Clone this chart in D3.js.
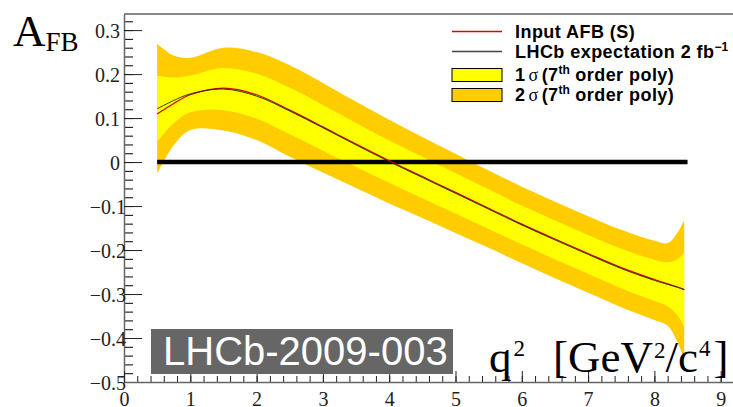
<!DOCTYPE html>
<html>
<head>
<meta charset="utf-8">
<script src="https://cdn.jsdelivr.net/npm/d3@7"></script>
<style>
  body { margin: 0; background: #fff; }
  svg { display: block; }
</style>
</head>
<body>
<div id="chart"></div>
<script>
// q^2 sample points (GeV^2/c^4)
const q2 = [0.5, 0.75, 1.0, 1.5, 2.0, 2.5, 3.0, 3.5, 4.0, 4.5, 5.0, 5.5, 6.0, 6.5, 7.0, 7.5, 8.0, 8.2, 8.35, 8.45];
// LHCb expectation 2 fb-1 (black) and input AFB (red)
const lhcb = [0.121, 0.140, 0.155, 0.166, 0.150, 0.116, 0.078, 0.039, 0.001, -0.035, -0.071, -0.107, -0.143, -0.177, -0.210, -0.242, -0.269, -0.278, -0.285, -0.290];
const inputAfb = [0.109, 0.133, 0.153, 0.168, 0.153, 0.118, 0.080, 0.041, 0.003, -0.033, -0.069, -0.105, -0.141, -0.175, -0.208, -0.240, -0.267, -0.277, -0.284, -0.290];
// half widths of the 1 sigma and 2 sigma bands
const sigma1 = [0.075, 0.052, 0.042, 0.048, 0.051, 0.053, 0.052, 0.050, 0.048, 0.047, 0.046, 0.045, 0.044, 0.044, 0.044, 0.045, 0.047, 0.050, 0.064, 0.085];
const sigma2 = [0.148, 0.102, 0.082, 0.094, 0.100, 0.104, 0.102, 0.098, 0.095, 0.092, 0.090, 0.088, 0.087, 0.087, 0.087, 0.088, 0.090, 0.094, 0.125, 0.158];

const xTicks = [0, 1, 2, 3, 4, 5, 6, 7, 8, 9, 10];
const yTicks = [-0.5, -0.4, -0.3, -0.2, -0.1, 0, 0.1, 0.2, 0.3];
const zeroLine = [0.5, 8.5];

const legendItems = [
  {type: "line", color: "#e00000", label: "Input AFB (S)"},
  {type: "line", color: "#444", label: "LHCb expectation 2 fb", sup: "−1"},
  {type: "box", color: "#ffff00", label: "1", sigma: true},
  {type: "box", color: "#ffcc00", label: "2", sigma: true}
];

const W = 733, H = 407;
const svg = d3.select("#chart").append("svg")
  .attr("width", W).attr("height", H);

const x = d3.scaleLinear().domain([0, 10]).range([124, 787]);
const y = d3.scaleLinear().domain([-0.5, 0.3366]).range([382, 14]);

const pts = q2.map((q, i) => ({q, c: lhcb[i], r: inputAfb[i], s1: sigma1[i], s2: sigma2[i]}));

// bands
const band = (k) => d3.area()
  .x(d => x(d.q))
  .y0(d => y(d.c - k(d)))
  .y1(d => y(d.c + k(d)))
  .curve(d3.curveCatmullRom);

svg.append("path").datum(pts).attr("fill", "#ffcc00").attr("d", band(d => d.s2));
svg.append("path").datum(pts).attr("fill", "#ffff00").attr("d", band(d => d.s1));

// thick zero line
svg.append("line")
  .attr("x1", x(zeroLine[0])).attr("x2", x(zeroLine[1]))
  .attr("y1", y(0)).attr("y2", y(0))
  .attr("stroke", "#000").attr("stroke-width", 4.5);

const line = (f) => d3.line().x(d => x(d.q)).y(d => y(f(d))).curve(d3.curveCatmullRom);
svg.append("path").datum(pts).attr("fill", "none").attr("stroke", "#d40000").attr("stroke-width", 1.2).attr("d", line(d => d.r));
svg.append("path").datum(pts).attr("fill", "none").attr("stroke", "#1a2a10").attr("stroke-width", 0.9).attr("d", line(d => d.c));

// frame top
svg.append("line").attr("x1", 124).attr("x2", W).attr("y1", 14).attr("y2", 14)
  .attr("stroke", "#888").attr("stroke-width", 2);

// y axis
const yMinor = d3.range(-0.5, 0.3366, 0.02);
svg.append("g").attr("transform", "translate(124,0)")
  .call(d3.axisRight(y).tickValues(yMinor).tickSize(9).tickFormat(""))
  .call(g => g.select(".domain").remove());
const yAx = svg.append("g").attr("transform", "translate(124,0)")
  .call(d3.axisLeft(y).tickValues(yTicks).tickSizeInner(-18).tickSizeOuter(0).tickPadding(4)
    .tickFormat(d => d3.format(".1~f")(d)));
yAx.select(".domain").attr("stroke", "#666").attr("stroke-width", 1.5);
yAx.selectAll("line").attr("stroke", "#222");
yAx.selectAll("text")
  .attr("font-family", "'Liberation Serif', serif").attr("font-size", 20).attr("fill", "#222")
  .attr("x", d => d < 0 ? 2 : -4).attr("dy", "0.38em");

// x axis
const xMinor = d3.range(0, 10.01, 0.2);
svg.append("g").attr("transform", "translate(0,382)")
  .call(d3.axisBottom(x).tickValues(xMinor).tickSizeInner(-6).tickSizeOuter(0).tickFormat(""))
  .call(g => g.select(".domain").remove())
  .selectAll("line").attr("stroke", "#222");
const xAx = svg.append("g").attr("transform", "translate(0,382)")
  .call(d3.axisBottom(x).tickValues(xTicks).tickSizeInner(-11).tickSizeOuter(0).tickPadding(10));
xAx.select(".domain").attr("stroke", "#666").attr("stroke-width", 1.5);
xAx.selectAll("line").attr("stroke", "#222");
xAx.selectAll("text")
  .attr("font-family", "'Liberation Serif', serif").attr("font-size", 20).attr("fill", "#222");

// axis titles
const serif = "'Liberation Serif', 'DejaVu Serif', serif";
const yt = svg.append("text").attr("x", 13).attr("y", 46).attr("font-family", serif).attr("font-size", 45);
yt.append("tspan").text("A");
yt.append("tspan").attr("font-size", 27).attr("dy", 5).text("FB");

// clipped title at very top
const tt = svg.append("text").attr("x", 295).attr("y", -7).attr("font-family", serif).attr("font-size", 45);
tt.append("tspan").text("A");
tt.append("tspan").attr("font-size", 27).attr("dy", 7).text("FB");

const xt1 = svg.append("text").attr("x", 489).attr("y", 372).attr("font-family", serif).attr("font-size", 45);
xt1.append("tspan").text("q");
xt1.append("tspan").attr("font-size", 23).attr("dx", 2).attr("dy", -16).text("2");
const xt2 = svg.append("text").attr("x", 553).attr("y", 372).attr("font-family", serif).attr("font-size", 45);
xt2.append("tspan").text("[GeV");
xt2.append("tspan").attr("font-size", 23).attr("dx", 1).attr("dy", -14).text("2");
xt2.append("tspan").attr("dy", 14).text("/c");
xt2.append("tspan").attr("font-size", 23).attr("dx", 1).attr("dy", -16).text("4");
xt2.append("tspan").attr("dx", 3).attr("dy", 16).text("]");

// LHCb label box
svg.append("rect").attr("x", 151).attr("y", 329).attr("width", 302).attr("height", 45).attr("fill", "#666");
svg.append("text").attr("x", 163).attr("y", 365)
  .attr("font-family", "'Liberation Sans', Arial, sans-serif").attr("font-size", 40).attr("fill", "#fff")
  .text("LHCb-2009-003");

// legend
const rowY = [31.5, 51.5, 75, 95];
const leg = svg.append("g");
legendItems.forEach((d, i) => {
  const cy = rowY[i];
  if (d.type === "line") {
    leg.append("line").attr("x1", 452).attr("x2", 502).attr("y1", cy).attr("y2", cy)
      .attr("stroke", d.color).attr("stroke-width", 1.3);
  } else {
    leg.append("rect").attr("x", 452).attr("y", cy - 6.5).attr("width", 50).attr("height", 13)
      .attr("fill", d.color).attr("stroke", "#000").attr("stroke-width", 1);
  }
  const t = leg.append("text").attr("x", 515).attr("y", cy + 6)
    .attr("font-family", "'Liberation Sans', Arial, sans-serif").attr("font-weight", "bold")
    .attr("font-size", 18).attr("letter-spacing", 0.45).attr("fill", "#000");
  t.append("tspan").text(d.label);
  if (d.sup) {
    t.append("tspan").attr("font-size", 12).attr("letter-spacing", 0).attr("dy", -7).text(d.sup);
  }
  if (d.sigma) {
    t.append("tspan").attr("font-family", serif).attr("font-weight", "normal").attr("dx", 3).text("σ");
    t.append("tspan").attr("dx", 3).text("(7");
    t.append("tspan").attr("font-size", 12).attr("letter-spacing", 0).attr("dy", -7).text("th");
    t.append("tspan").attr("dy", 7).text(" order poly)");
  }
});
</script>
</body>
</html>
